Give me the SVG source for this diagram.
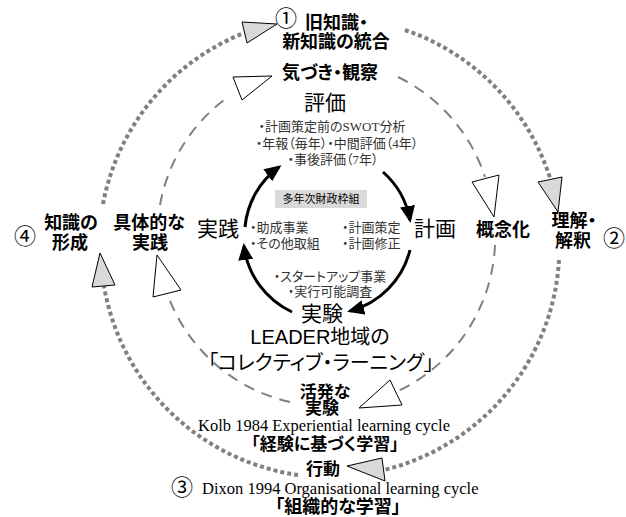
<svg xmlns="http://www.w3.org/2000/svg" width="626" height="517" viewBox="0 0 626 517">
<style>
.dot{fill:none;stroke:#808080;stroke-width:4;stroke-dasharray:4 3}
.dash{fill:none;stroke:#808080;stroke-width:2;stroke-dasharray:11 8}
.solid{fill:none;stroke:#000;stroke-width:3;marker-end:url(#ah)}
.tw{fill:#fff;stroke:#000;stroke-width:1}
.tg{fill:#d9d9d9;stroke:#000;stroke-width:1}
text{font-family:"Liberation Sans","Noto Sans CJK JP",sans-serif;fill:#000;font-feature-settings:"palt"}
.b{font-weight:bold;font-size:18px}
.big{font-size:21px}
.num{font-size:22px;text-anchor:middle}
.ser{font-family:"Liberation Serif","Noto Sans CJK JP",serif;font-size:13px;fill:#333}
.en{font-family:"Liberation Serif",serif;font-size:16.5px}
.m{text-anchor:middle}
</style>
<defs>
<marker id="ah" markerUnits="userSpaceOnUse" markerWidth="17" markerHeight="15" refX="14" refY="7.5" orient="auto"><path d="M0,0 L17,7.5 L0,15 z" fill="#000"/></marker>
</defs>
<g id="connectors">
<path class="dot" d="M103,204 A230,230 0 0 1 244,33"/>
<path class="dot" d="M405,30 A230,230 0 0 1 550,178"/>
<path class="dot" d="M559,260 A230,230 0 0 1 384,470"/>
<path class="dot" d="M298,475 A230,230 0 0 1 104,286"/>
<polygon class="tg" points="242,22 247,43 277,24"/>
<polygon class="tg" points="538,182 562,177 558,212"/>
<polygon class="tg" points="382,458 385,481 347,466"/>
<polygon class="tg" points="100,253 92,287 115,285"/>
<path class="dash" d="M160,205 A170,170 0 0 1 228,97"/>
<path class="dash" d="M398,77 A170,170 0 0 1 485,177"/>
<path class="dash" d="M495,245 A170,170 0 0 1 396,392"/>
<path class="dash" d="M290,402 A170,170 0 0 1 167,293"/>
<polygon class="tw" points="233,77 242,100 272,76"/>
<polygon class="tw" points="472,182 499,175 494,217"/>
<polygon class="tw" points="390,380 402,405 359,408"/>
<polygon class="tw" points="157,255 153,297 181,290"/>
<path class="solid" d="M383,172 A84,84 0 0 1 410,220"/>
<path class="solid" d="M410,250 A84,84 0 0 1 350,311"/>
<path class="solid" d="M292,312 A84,84 0 0 1 244,246"/>
<path class="solid" d="M245,227 A84,84 0 0 1 279,167"/>
</g>
<g id="node-1">
<text class="num" x="286" y="26">①</text>
<text class="b" x="305" y="29">旧知識・</text>
<text class="b m" x="336" y="48">新知識の統合</text>
</g>
<g id="node-2">
<text class="num" x="614" y="246">②</text>
<text class="b m" x="574" y="227">理解・</text>
<text class="b m" x="573" y="247">解釈</text>
</g>
<g id="node-3">
<text class="b m" x="323" y="475" style="font-size:17px">行動</text>
<text class="num" x="182" y="495">③</text>
<text class="en" x="202" y="494">Dixon 1994 Organisational learning cycle</text>
<text class="b m" x="338" y="513">「組織的な学習」</text>
</g>
<g id="node-4">
<text class="num" x="25" y="244">④</text>
<text class="b m" x="71" y="229">知識の</text>
<text class="b m" x="70" y="249">形成</text>
</g>
<g id="node-kizuki">
<text class="b m" x="330" y="79">気づき・観察</text>
</g>
<g id="node-gainen">
<text class="b m" x="503" y="236">概念化</text>
</g>
<g id="node-kappatsu">
<text class="b m" x="325" y="398" style="font-size:17px">活発な</text>
<text class="b m" x="322" y="414" style="font-size:17px">実験</text>
<text class="en m" x="324" y="431">Kolb 1984 Experiential learning cycle</text>
<text class="b m" x="325" y="450" style="font-size:17px">「経験に基づく学習」</text>
</g>
<g id="node-gutai">
<text class="b m" x="149" y="229">具体的な</text>
<text class="b m" x="150" y="249">実践</text>
</g>
<g id="node-hyoka">
<text class="big m" x="325" y="110">評価</text>
<text class="ser m" x="332" y="131">・計画策定前のSWOT分析</text>
<text class="ser m" x="337" y="148">・年報（毎年）・中間評価（4年）</text>
<text class="ser m" x="333" y="164">・事後評価（7年）</text>
</g>
<g id="node-zaisei">
<rect x="275" y="190" width="92" height="18" fill="#d9d9d9"/>
<text class="m" x="321" y="203" style="font-size:11px">多年次財政枠組</text>
</g>
<g id="node-jissen">
<text class="big m" x="218" y="236">実践</text>
<text class="ser" x="250" y="232">・助成事業</text>
<text class="ser" x="250" y="248">・その他取組</text>
</g>
<g id="node-keikaku">
<text class="ser" x="342" y="232">・計画策定</text>
<text class="ser" x="342" y="248">・計画修正</text>
<text class="big m" x="435" y="236">計画</text>
</g>
<g id="node-jikken">
<text class="ser m" x="330" y="281">・スタートアップ事業</text>
<text class="ser m" x="330" y="296">・実行可能調査</text>
<text class="big m" x="322" y="321">実験</text>
</g>
<g id="node-leader">
<text class="m" x="320" y="344" style="font-size:20px">LEADER地域の</text>
<text class="m" x="321" y="370" style="font-size:20px">「コレクティブ・ラーニング」</text>
</g>
</svg>
